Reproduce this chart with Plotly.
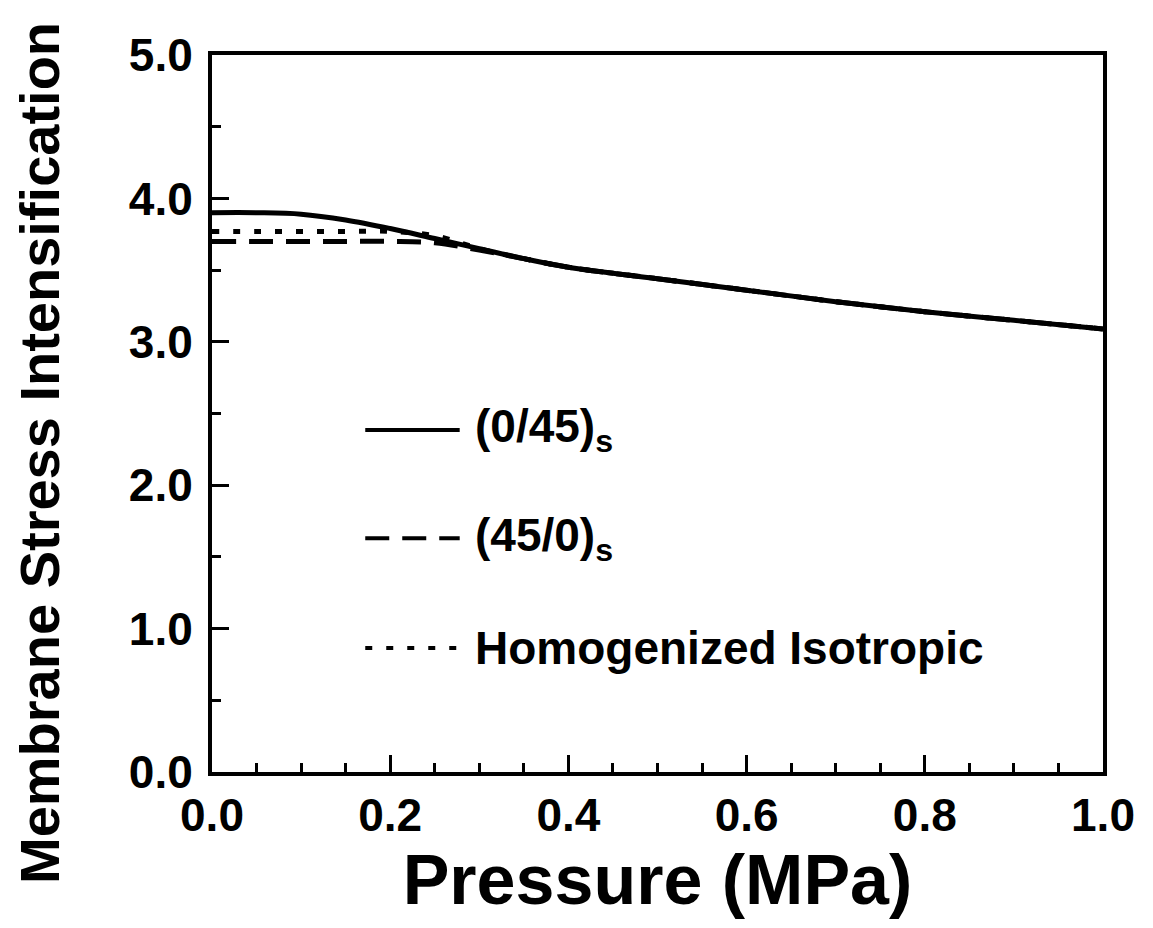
import plotly.graph_objects as go

# Data
pressure = [0.0, 0.05, 0.1, 0.15, 0.2, 0.25, 0.3, 0.35, 0.4, 0.5, 0.6, 0.7, 0.8, 0.9, 1.0]
s_0_45 = [3.90, 3.90, 3.89, 3.85, 3.79, 3.72, 3.65, 3.58, 3.52, 3.44, 3.36, 3.28, 3.21, 3.15, 3.09]
s_45_0 = [3.70, 3.70, 3.70, 3.70, 3.70, 3.69, 3.64, 3.58, 3.52, 3.44, 3.36, 3.28, 3.21, 3.15, 3.09]
s_iso = [3.77, 3.77, 3.77, 3.77, 3.77, 3.74, 3.65, 3.58, 3.52, 3.44, 3.36, 3.28, 3.21, 3.15, 3.09]

legend_labels = ["(0/45)<sub>s</sub>", "(45/0)<sub>s</sub>", "Homogenized Isotropic"]
legend_y = [2.385, 1.63, 0.865]

x_ticks = [0.0, 0.2, 0.4, 0.6, 0.8, 1.0]
y_ticks = [0.0, 1.0, 2.0, 3.0, 4.0, 5.0]

FONT = "Liberation Sans, Arial, Helvetica, sans-serif"
DASHES = ["solid", "24px,13px", "7px,14px"]

fig = go.Figure()
for ys, dash in zip([s_0_45, s_45_0, s_iso], DASHES):
    fig.add_trace(go.Scatter(x=pressure, y=ys, mode="lines", line_shape="spline",
                             line=dict(color="black", width=5, dash=dash),
                             showlegend=False))

# custom legend (key lines in paper-x, data-y), text as annotations
for lab, dash, ly in zip(legend_labels, DASHES, legend_y):
    fig.add_shape(type="line", xref="paper", yref="y", x0=0.172, x1=0.278, y0=ly, y1=ly,
                  line=dict(color="black", width=4, dash=dash))
    fig.add_annotation(xref="paper", yref="y", x=0.293, y=ly, text="<b>" + lab + "</b>",
                       showarrow=False, xanchor="left", yanchor="middle",
                       font=dict(family=FONT, size=46, color="black"))

# y-axis title as annotation (placed like the reference)
fig.add_annotation(xref="paper", yref="paper", x=-0.193, y=0.445,
                   text="<b>Membrane Stress Intensification</b>", textangle=-90,
                   showarrow=False, xanchor="center", yanchor="middle",
                   font=dict(family=FONT, size=56, color="black"))

axis_common = dict(
    showline=True, linecolor="black", linewidth=4, mirror=True,
    ticks="inside", ticklen=17, tickwidth=3, tickcolor="black",
    showgrid=False, zeroline=False,
    tickfont=dict(family=FONT, size=46, color="black", weight="bold"),
    tickformat=".1f",
)

fig.update_xaxes(range=[0, 1.0], tickvals=x_ticks,
                 minor=dict(dtick=0.05, ticks="inside", ticklen=9, tickwidth=3, tickcolor="black", showgrid=False),
                 title=dict(text="<b>Pressure (MPa)</b>", font=dict(family=FONT, size=70, color="black"), standoff=10),
                 **axis_common)
fig.update_yaxes(range=[0, 5.0], tickvals=y_ticks, ticklabelstandoff=6,
                 minor=dict(dtick=0.5, ticks="inside", ticklen=9, tickwidth=3, tickcolor="black", showgrid=False),
                 **axis_common)

fig.update_layout(
    width=1145, height=920,
    margin=dict(l=204, r=50, t=47, b=156),
    paper_bgcolor="white", plot_bgcolor="white",
)

fig.write_html("out.html")
